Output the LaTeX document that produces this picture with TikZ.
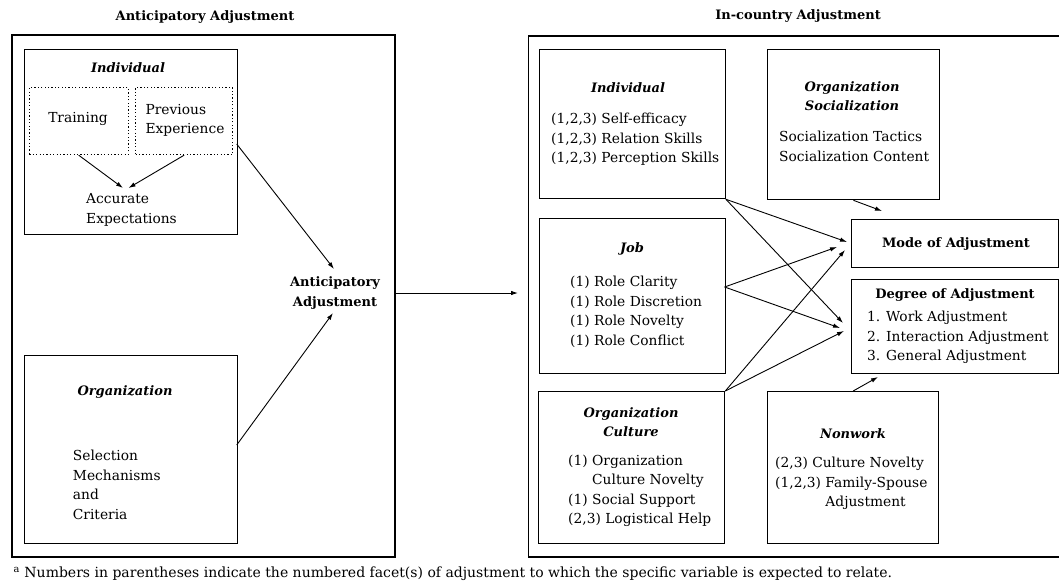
\documentclass[tikz,border=0pt]{standalone}
\usepackage{fontspec}
\setmainfont{DejaVu Serif}
\usetikzlibrary{arrows.meta}
\begin{document}
\begin{tikzpicture}[x=1pt,y=-1pt,
  frame/.style={draw, line width=1.3pt},
  box/.style={draw, line width=1.3pt, inner sep=0pt, anchor=north west},
  dbox/.style={draw, dash pattern=on 1.2pt off 2.2pt, line width=1.2pt, inner sep=0pt, anchor=north west},
  arr/.style={-{Latex[length=7pt,width=4.5pt]}, line width=0.9pt},
  body/.style={font=\fontsize{13.8}{19.5}\selectfont, inner sep=0pt},
  lbody/.style={body, align=left, anchor=west},
  head/.style={font=\fontsize{13}{19.5}\selectfont\bfseries, inner sep=0pt, align=center},
  ihead/.style={font=\fontsize{13}{19}\selectfont\bfseries\itshape, inner sep=0pt, align=center},
]
\useasboundingbox (0,0) rectangle (1059,583);

% titles
\node[head] (t1) at (205,17) {Anticipatory Adjustment};
\node[head] (t2) at (798,16) {In-country Adjustment};

% outer frames
\draw[frame] (12,35) rectangle (395,557);
\draw[frame] (1059,36) -- (528.5,36) -- (528.5,557) -- (1059,557);

% ---------- left part ----------
\node[box, minimum width=213pt, minimum height=185pt] (indL) at (23.7,49) {};
\node[ihead] (indLt) at (128,68) {Individual};
\node[dbox, minimum width=98.8pt, minimum height=67pt] (train) at (28.7,87) {};
\node[dbox, minimum width=97pt, minimum height=67pt] (prev) at (135,87) {};
\node[body] (traint) at (78,119) {Training};
\node[lbody] (prevt) at (145.4,120.5) {Previous\\Experience};
\node[lbody] (acc) at (86,210) {Accurate\\Expectations};
\coordinate (acc1) at (123,188);
\coordinate (acc2) at (128.5,188);
\draw[arr] (train.south) -- (acc1);
\draw[arr] (prev.south) -- (acc2);

\node[box, minimum width=213pt, minimum height=188pt] (orgL) at (23.7,355) {};
\node[ihead] (orgLt) at (125,392) {Organization};
\node[lbody] (sel) at (72.7,485) {Selection\\Mechanisms\\and\\Criteria};

\node[head] (ant) at (335,293) {Anticipatory\\Adjustment};
\coordinate (antin1) at (334,269);
\coordinate (antin2) at (333,313);
\coordinate (indLout) at (236.7,144);
\coordinate (orgLout) at (236.7,445);
\draw[arr] (indLout) -- (antin1);
\draw[arr] (orgLout) -- (antin2);

\coordinate (lout) at (395,293);
\coordinate (rin) at (518,293);
\draw[arr] (lout) -- (rin);

% ---------- right part ----------
\node[box, minimum width=185.6pt, minimum height=149pt] (indR) at (539,49) {};
\node[ihead] (indRt) at (628,88) {Individual};
\node[lbody] (indRi) at (551,139.5) {(1,2,3) Self-efficacy\\(1,2,3) Relation Skills\\(1,2,3) Perception Skills};

\node[box, minimum width=171.5pt, minimum height=150pt] (soc) at (767,49) {};
\node[ihead] (soct) at (852,96.5) {Organization\\Socialization};
\node[lbody] (soci) at (779,146.5) {Socialization Tactics\\Socialization Content};

\node[box, minimum width=207pt, minimum height=48pt] (mode) at (851,219) {};
\node[head] (modet) at (956,244) {Mode of Adjustment};

\node[box, minimum width=207pt, minimum height=94pt] (deg) at (851,279) {};
\node[head] (degt) at (955,295) {Degree of Adjustment};
\node[lbody] (degi) at (867,337.5) {1. Work Adjustment\\2. Interaction Adjustment\\3. General Adjustment};

\node[box, minimum width=185.6pt, minimum height=155pt] (job) at (539,218) {};
\node[ihead] (jobt) at (632,249) {Job};
\node[lbody] (jobi) at (570,311.75) {(1) Role Clarity\\(1) Role Discretion\\(1) Role Novelty\\(1) Role Conflict};

\node[box, minimum width=186pt, minimum height=152pt] (cul) at (538,391) {};
\node[ihead] (cult) at (631,422.5) {Organization\\Culture};
\node[lbody] (culi) at (568,491) {(1) Organization\\\phantom{(1) }Culture Novelty\\(1) Social Support\\(2,3) Logistical Help};

\node[box, minimum width=171pt, minimum height=152pt] (non) at (767,391) {};
\node[ihead] (nont) at (853,434) {Nonwork};
\node[lbody] (noni) at (775,483.5) {(2,3) Culture Novelty\\(1,2,3) Family-Spouse\\\phantom{(1,2,3) }Adjustment};

% connectors
\coordinate (m1) at (847,242);
\coordinate (m2) at (837,247);
\coordinate (m3) at (845,250);
\coordinate (d1) at (843,323);
\coordinate (d2) at (840,328);
\coordinate (d3) at (844,331);
\coordinate (jobout) at (724.6,287);
\coordinate (socin) at (882,211);
\coordinate (nonin) at (878,377);
\draw[arr] (indR.south east) -- (m1);
\draw[arr] (indR.south east) -- (d1);
\draw[arr] (jobout) -- (m2);
\draw[arr] (jobout) -- (d2);
\draw[arr] (cul.north east) -- (m3);
\draw[arr] (cul.north east) -- (d3);
\draw[arr] (soc.south) -- (socin);
\draw[arr] (non.north) -- (nonin);

% footnote
\node[body, anchor=west, font=\fontsize{14}{19.5}\selectfont] (fn) at (13.5,574) {\textsuperscript{a} Numbers in parentheses indicate the numbered facet(s) of adjustment to which the specific variable is expected to relate.};
\end{tikzpicture}
\end{document}
